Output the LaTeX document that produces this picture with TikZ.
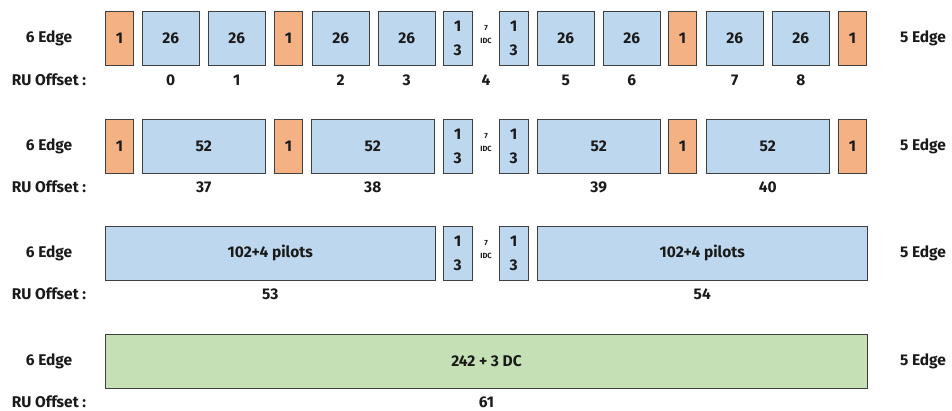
\documentclass[tikz,border=0pt]{standalone}
\usepackage{fontspec}
\setmainfont{Fira Sans}
\definecolor{nullorange}{HTML}{F4B183}
\definecolor{rublue}{HTML}{BDD7EE}
\definecolor{rugreen}{HTML}{C5E0B4}
\definecolor{rim}{HTML}{3F3F3F}
\definecolor{ink}{HTML}{1A1A1A}

\begin{document}
\begin{tikzpicture}[x=1pt,y=-1pt,
  cell/.style={draw=rim,line width=1pt,inner sep=0pt,anchor=north west,minimum height=53.5pt,
    text=ink,font=\bfseries\fontsize{15.5}{24}\selectfont,align=center},
  nul/.style={cell,fill=nullorange,minimum width=28pt},
  ru26/.style={cell,fill=rublue,minimum width=56.5pt},
  ru52/.style={cell,fill=rublue,minimum width=122.5pt},
  ru106/.style={cell,fill=rublue,minimum width=329.5pt},
  half/.style={cell,fill=rublue,minimum width=28.5pt},
  ru242/.style={cell,fill=rugreen,minimum width=762pt},
  lbl/.style={text=ink,font=\bfseries\fontsize{15.5}{15.5}\selectfont,inner sep=0pt},
  idc/.style={text=ink,font=\bfseries\fontsize{7.5}{8}\selectfont,inner sep=0pt}]
\useasboundingbox (0,0) rectangle (952,410);

% 26-tone RUs
\node[nul] (o1a) at (105,11) {1};
\node[ru26] (a0) at (142,11) {26};
\node[ru26] (a1) at (208,11) {26};
\node[nul] (o1b) at (274,11) {1};
\node[ru26] (a2) at (312,11) {26};
\node[ru26] (a3) at (378,11) {26};
\node[half] (h1l) at (443,11) {1\\3};
\node[half] (h1r) at (499,11) {1\\3};
\node[ru26] (a5) at (537,11) {26};
\node[ru26] (a6) at (603,11) {26};
\node[nul] (o1c) at (668,11) {1};
\node[ru26] (a7) at (706,11) {26};
\node[ru26] (a8) at (772,11) {26};
\node[nul] (o1d) at (838,11) {1};
\node[idc] (d1a) at (486,28) {7};
\node[idc] (d1b) at (486,41) {IDC};

\node[lbl] (e1l) at (49,38) {6 Edge};
\node[lbl] (e1r) at (923,38) {5 Edge};
\node[lbl] (u1) at (49,80) {RU Offset :};
\node[lbl] (n0) at (a0.center |- 0,80) {0};
\node[lbl] (n1) at (a1.center |- 0,80) {1};
\node[lbl] (n2) at (a2.center |- 0,80) {2};
\node[lbl] (n3) at (a3.center |- 0,80) {3};
\node[lbl] (n4) at (486,80) {4};
\node[lbl] (n5) at (a5.center |- 0,80) {5};
\node[lbl] (n6) at (a6.center |- 0,80) {6};
\node[lbl] (n7) at (a7.center |- 0,80) {7};
\node[lbl] (n8) at (a8.center |- 0,80) {8};

% 52-tone RUs
\node[nul] (o2a) at (105,119) {1};
\node[ru52] (b37) at (142,119) {52};
\node[nul] (o2b) at (274,119) {1};
\node[ru52] (b38) at (311,119) {52};
\node[half] (h2l) at (443,119) {1\\3};
\node[half] (h2r) at (499,119) {1\\3};
\node[ru52] (b39) at (537,119) {52};
\node[nul] (o2c) at (668,119) {1};
\node[ru52] (b40) at (706,119) {52};
\node[nul] (o2d) at (838,119) {1};
\node[idc] (d2a) at (486,136) {7};
\node[idc] (d2b) at (486,149) {IDC};

\node[lbl] (e2l) at (49,146) {6 Edge};
\node[lbl] (e2r) at (923,146) {5 Edge};
\node[lbl] (u2) at (49,187) {RU Offset :};
\node[lbl] (n37) at (b37.center |- 0,187) {37};
\node[lbl] (n38) at (b38.center |- 0,187) {38};
\node[lbl] (n39) at (b39.center |- 0,187) {39};
\node[lbl] (n40) at (b40.center |- 0,187) {40};

% 106-tone RUs
\node[ru106] (c53) at (105,226) {102+4 pilots};
\node[half] (h3l) at (443,226) {1\\3};
\node[half] (h3r) at (499,226) {1\\3};
\node[ru106] (c54) at (537,226) {102+4 pilots};
\node[idc] (d3a) at (486,243) {7};
\node[idc] (d3b) at (486,256) {IDC};

\node[lbl] (e3l) at (49,253) {6 Edge};
\node[lbl] (e3r) at (923,253) {5 Edge};
\node[lbl] (u3) at (49,294) {RU Offset :};
\node[lbl] (n53) at (c53.center |- 0,294) {53};
\node[lbl] (n54) at (c54.center |- 0,294) {54};

% 242-tone RU
\node[ru242] (g61) at (105,334) {242 + 3 DC};

\node[lbl] (e4l) at (49,361) {6 Edge};
\node[lbl] (e4r) at (923,361) {5 Edge};
\node[lbl] (u4) at (49,402) {RU Offset :};
\node[lbl] (n61) at (g61.center |- 0,402) {61};

\end{tikzpicture}
\end{document}
